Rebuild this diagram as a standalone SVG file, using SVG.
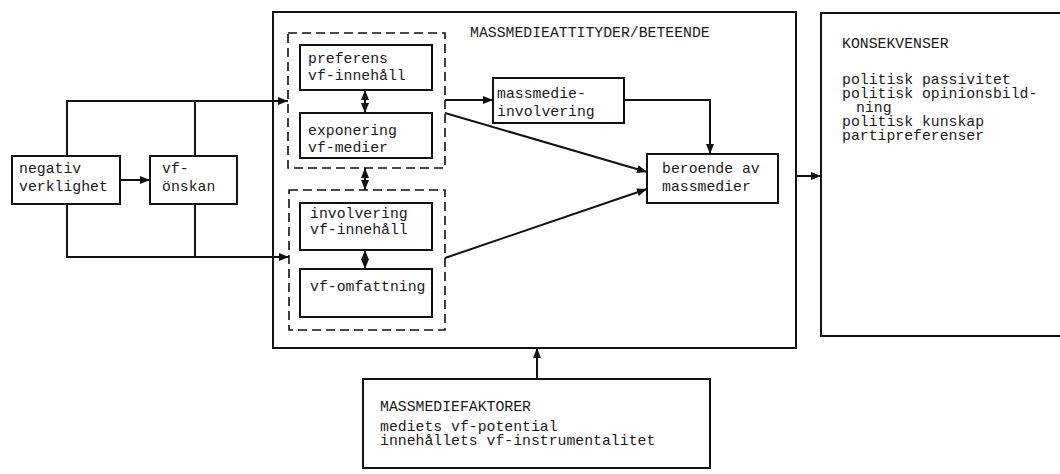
<svg xmlns="http://www.w3.org/2000/svg" width="1060" height="474" viewBox="0 0 1060 474">
<style>
.box{fill:none;stroke:#111;stroke-width:2}
.dash{fill:none;stroke:#111;stroke-width:1.6;stroke-dasharray:9 5}
.t{font-family:"Liberation Mono","DejaVu Sans Mono",monospace;font-size:14.8px;fill:#1a1a1a}
.c{fill:none;stroke:#111;stroke-width:2}
</style>
<defs>
<marker id="ah" viewBox="0 0 10 8" refX="10" refY="4" markerWidth="11" markerHeight="8" markerUnits="userSpaceOnUse" orient="auto-start-reverse">
<path d="M0,0 L10,4 L0,8 z" fill="#111"/>
</marker>
</defs>
<rect width="1060" height="474" fill="#fff"/>

<g id="attityder">
<rect class="box" x="273" y="12" width="523" height="336"/>
<text class="t" x="470" y="37">MASSMEDIEATTITYDER/BETEENDE</text>
</g>
<g id="grupp1"><rect class="dash" x="288" y="33" width="157" height="135"/></g>
<g id="grupp2"><rect class="dash" x="289" y="190" width="156" height="140"/></g>

<g id="negativ">
<rect class="box" x="12" y="156" width="108" height="48"/>
<text class="t" x="19" y="173">negativ</text>
<text class="t" x="19" y="191">verklighet</text>
</g>
<g id="vfonskan">
<rect class="box" x="150" y="156" width="87" height="48"/>
<text class="t" x="162" y="173">vf-</text>
<text class="t" x="162" y="191">önskan</text>
</g>
<g id="preferens">
<rect class="box" x="300" y="45" width="132" height="45"/>
<text class="t" x="308" y="63">preferens</text>
<text class="t" x="308" y="80">vf-innehåll</text>
</g>
<g id="exponering">
<rect class="box" x="300" y="113" width="132" height="45"/>
<text class="t" x="308" y="135">exponering</text>
<text class="t" x="308" y="152">vf-medier</text>
</g>
<g id="involvering">
<rect class="box" x="300" y="203" width="132" height="47"/>
<text class="t" x="310" y="218">involvering</text>
<text class="t" x="310" y="234">vf-innehåll</text>
</g>
<g id="omfattning">
<rect class="box" x="300" y="269" width="132" height="48"/>
<text class="t" x="310" y="291">vf-omfattning</text>
</g>
<g id="massmedieinvolvering">
<rect class="box" x="493" y="78" width="131" height="45"/>
<text class="t" x="497" y="98">massmedie-</text>
<text class="t" x="497" y="116">involvering</text>
</g>
<g id="beroende">
<rect class="box" x="647" y="154" width="131" height="49"/>
<text class="t" x="662" y="173">beroende av</text>
<text class="t" x="662" y="191">massmedier</text>
</g>
<g id="konsekvenser">
<rect class="box" x="821" y="13" width="245" height="323"/>
<text class="t" x="842" y="48">KONSEKVENSER</text>
<text class="t" x="842" y="84">politisk passivitet</text>
<text class="t" x="842" y="98">politisk opinionsbild-</text>
<text class="t" x="856" y="112">ning</text>
<text class="t" x="842" y="126">politisk kunskap</text>
<text class="t" x="842" y="140">partipreferenser</text>
</g>
<g id="faktorer">
<rect class="box" x="363" y="379" width="347" height="89"/>
<text class="t" x="380" y="411">MASSMEDIEFAKTORER</text>
<text class="t" x="380" y="431">mediets vf-potential</text>
<text class="t" x="380" y="445">innehållets vf-instrumentalitet</text>
</g>

<g id="connectors">
<path class="c" d="M67,156 V101 H288" marker-end="url(#ah)"/>
<path class="c" d="M195,156 V101"/>
<path class="c" d="M67,204 V257 H289" marker-end="url(#ah)"/>
<path class="c" d="M195,204 V257"/>
<path class="c" d="M120,180 H150" marker-end="url(#ah)"/>
<path class="c" d="M365,90 V113" marker-start="url(#ah)" marker-end="url(#ah)"/>
<path class="c" d="M365,168 V190" marker-start="url(#ah)" marker-end="url(#ah)"/>
<path class="c" d="M365,250 V269" marker-start="url(#ah)" marker-end="url(#ah)"/>
<path class="c" d="M445,100 H493" marker-end="url(#ah)"/>
<path class="c" d="M624,100 H710 V154" marker-end="url(#ah)"/>
<path class="c" d="M445,113 L647,172" marker-end="url(#ah)"/>
<path class="c" d="M445,258 L647,189" marker-end="url(#ah)"/>
<path class="c" d="M796,176 H821" marker-end="url(#ah)"/>
<path class="c" d="M537,379 V348" marker-end="url(#ah)"/>
</g>
</svg>
